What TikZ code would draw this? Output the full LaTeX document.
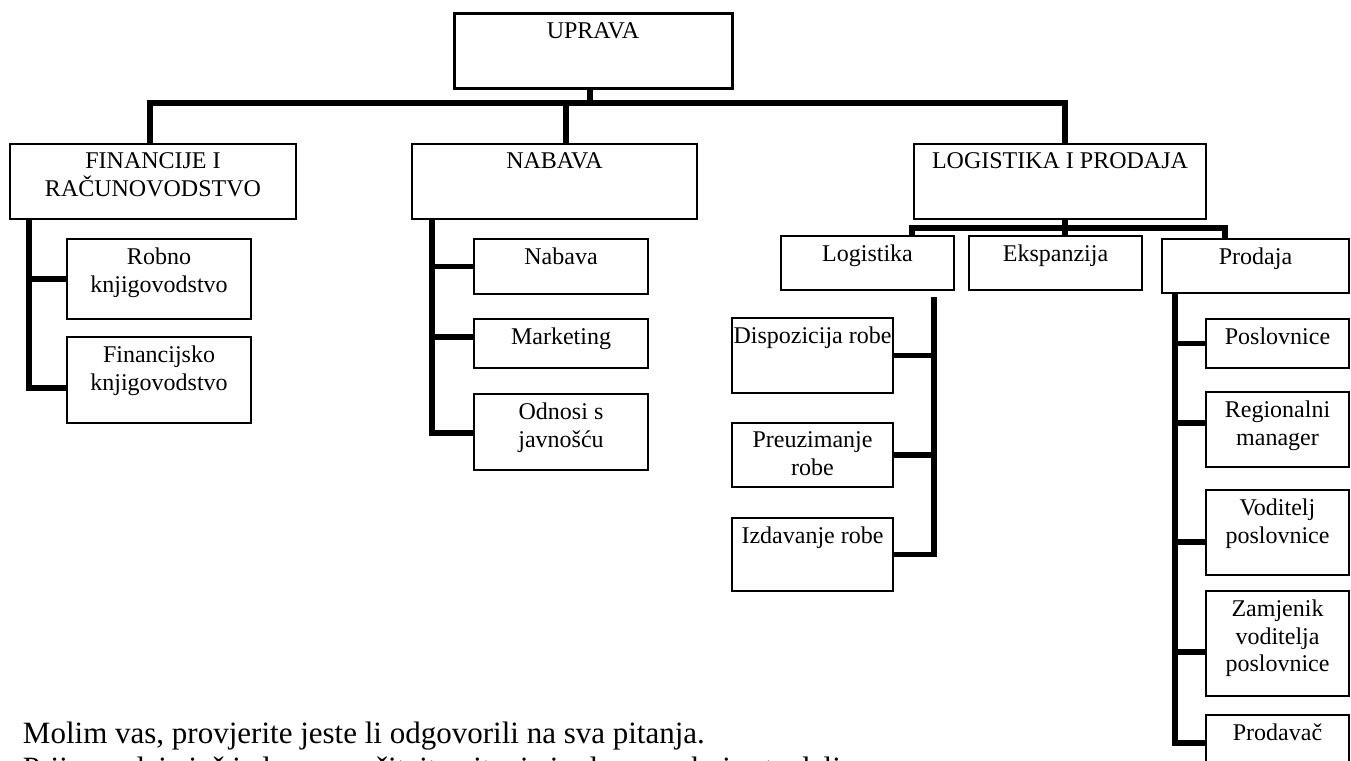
\documentclass[tikz,border=0pt]{standalone}
\usepackage{fontspec}
\setmainfont{Liberation Serif}
\tikzset{
  ob/.style={draw=black, line width=1.3pt, fill=white, inner sep=0pt, outer sep=0pt},
  obthick/.style={ob, line width=3pt},
  ot/.style={inner sep=0pt, outer sep=0pt, align=center, font=\fontsize{24}{27.5}\selectfont},
  conn/.style={draw=black, line width=5.5pt, line join=miter},
  bigtxt/.style={inner sep=0pt, outer sep=0pt, anchor=base west, font=\fontsize{31}{35}\selectfont}
}
\newcommand{\orgbox}[7][ob]{%
  \node[#1, minimum width={#5-#3}, minimum height={#6-#4}, anchor=north west] (#2) at (#3,#4) {};
  \node[ot, anchor=north] (#2t) at ([yshift=-9pt]#2.north) {#7};
}
\begin{document}
\begin{tikzpicture}[x=1pt, y=-1pt]
\useasboundingbox (0,0) rectangle (1351,760);
\clip (0,0) rectangle (1351,760);
\fill[white] (0,0) rectangle (1351,760);

% top level
\orgbox[obthick]{upr}{454}{14}{732}{88}{UPRAVA}
\orgbox{fin}{10}{144}{296}{219}{FINANCIJE I\\RAČUNOVODSTVO}
\orgbox{nab}{412}{144}{697}{219}{NABAVA}
\orgbox{lip}{914}{144}{1206}{219}{LOGISTIKA I PRODAJA}

% finance
\orgbox{robno}{67}{239}{251}{319}{Robno\\knjigovodstvo}
\orgbox{finknj}{67}{337}{251}{423}{Financijsko\\knjigovodstvo}

% nabava
\orgbox{nabb}{474}{239}{648}{294}{Nabava}
\orgbox{mark}{474}{319}{648}{368}{Marketing}
\orgbox{odn}{474}{394}{648}{470}{Odnosi s\\javnošću}

% logistika i prodaja
\orgbox{log}{781}{236}{954}{290}{Logistika}
\orgbox{eks}{969}{236}{1142}{290}{Ekspanzija}
\orgbox{prod}{1162}{239}{1349}{293}{Prodaja}

% logistika
\orgbox{disp}{732}{318}{893}{393}{Dispozicija robe}
\orgbox{preuz}{732}{423}{893}{487}{Preuzimanje\\robe}
\orgbox{izd}{732}{518}{893}{591}{Izdavanje robe}

% prodaja
\orgbox{posl}{1206}{319}{1349}{368}{Poslovnice}
\orgbox{reg}{1206}{392}{1349}{467}{Regionalni\\manager}
\orgbox{vod}{1206}{490}{1349}{575}{Voditelj\\poslovnice}
\orgbox{zam}{1206}{591}{1349}{696}{Zamjenik\\voditelja\\poslovnice}
\orgbox{prv}{1206}{715}{1349}{778}{Prodavač}

% main bus
\coordinate (busL) at (150,103);
\coordinate (busR) at (1065,103);
\coordinate (busM) at (566,103);
\coordinate (busU) at (590,103);
\draw[conn] (busL |- fin.north) -- (busL) -- (busR) -- (busR |- lip.north);
\draw[conn] (upr.south -| busU) -- (busU);
\draw[conn] (busM) -- (busM |- nab.north);

% finance sub
\coordinate (fvB) at (29,388);
\draw[conn] (fin.south -| fvB) -- (fvB) -- (fvB -| finknj.west);
\draw[conn] (robno.west -| fvB) -- (robno.west);

% nabava sub
\coordinate (nvB) at (432,433);
\draw[conn] (nab.south -| nvB) -- (nvB) -- (nvB -| odn.west);
\draw[conn] (nabb.west -| nvB) -- (nabb.west);
\draw[conn] ([yshift=6.5pt]mark.west -| nvB) -- ([yshift=6.5pt]mark.west);

% logistika i prodaja sub
\coordinate (lb) at (1065,228);
\coordinate (lbL) at (912,228);
\coordinate (lbR) at (1225,228);
\draw[conn] (lip.south -| lb) -- (lb |- eks.north);
\draw[conn] (lbL |- log.north) -- (lbL) -- (lbR) -- (lbR |- prod.north);

% logistika sub
\coordinate (lv) at (934,297);
\draw[conn] (lv) -- (lv |- izd.east) -- (izd.east);
\draw[conn] (disp.east) -- (disp.east -| lv);
\draw[conn] (preuz.east) -- (preuz.east -| lv);

% prodaja sub
\coordinate (pv) at (1175,743);
\draw[conn] (prod.south -| pv) -- (pv) -- (pv -| prv.west);
\draw[conn] (posl.west -| pv) -- (posl.west);
\draw[conn] (pv |- 0,423) -- (reg.west |- 0,423);
\draw[conn] (pv |- 0,542) -- (vod.west |- 0,542);
\draw[conn] (pv |- 0,652) -- (zam.west |- 0,652);

% bottom text
\node[bigtxt] (note1) at (23,743) {Molim vas, provjerite jeste li odgovorili na sva pitanja.};
\node[bigtxt] (note2) at (23,778) {Prije predaje još jednom pročitajte pitanja i odgovore koje ste dali.};
\end{tikzpicture}
\end{document}
